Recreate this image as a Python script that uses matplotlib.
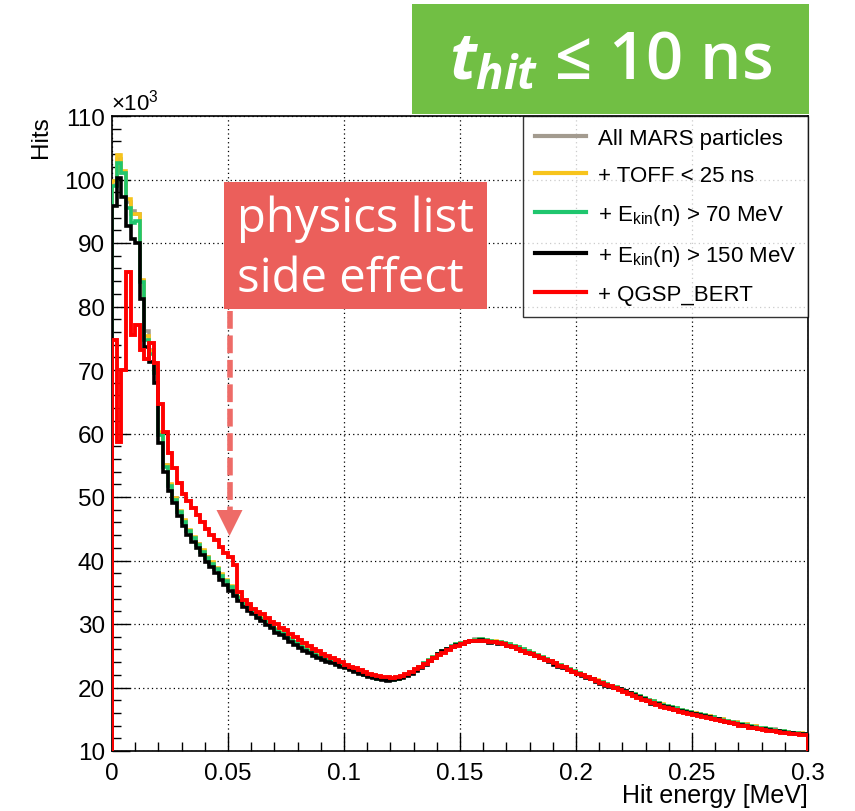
import numpy as np
import matplotlib
matplotlib.use("Agg")
import matplotlib.pyplot as plt
from matplotlib.patches import Rectangle, Polygon
from matplotlib.lines import Line2D

plt.rcParams['font.family'] = ['Liberation Sans', 'DejaVu Sans']
plt.rcParams['mathtext.fontset'] = 'custom'
plt.rcParams['mathtext.rm'] = 'Liberation Sans'
plt.rcParams['mathtext.it'] = 'Open Sans:italic:bold'

# ---------------- data (hits, in units of 10^3) ----------------
x_min, x_max, n_bins = 0.0, 0.3, 150

all_mars = [
    99.2, 103.3, 101.0, 96.5, 95.0, 94.6, 84.0, 76.1, 73.2, 70.0,
    60.0, 55.0, 51.9, 49.8, 47.7, 46.2, 44.7, 43.6, 42.6, 41.5,
    40.5, 39.6, 38.7, 37.7, 36.8, 35.9, 35.0, 34.2, 33.3, 32.7,
    32.1, 31.5, 30.9, 30.3, 29.8, 29.1, 28.7, 28.3, 27.7, 27.2,
    26.7, 26.3, 25.9, 25.5, 25.1, 24.7, 24.4, 24.1, 23.8, 23.5,
    23.2, 22.9, 22.6, 22.3, 22.0, 21.8, 21.6, 21.5, 21.3, 21.3,
    21.3, 21.4, 21.6, 21.9, 22.3, 22.7, 23.2, 23.8, 24.3, 24.8,
    25.3, 25.7, 26.1, 26.5, 26.8, 27.0, 27.2, 27.4, 27.6, 27.6,
    27.5, 27.4, 27.2, 27.1, 27.0, 26.8, 26.5, 26.3, 26.0, 25.7,
    25.4, 25.1, 24.8, 24.5, 24.2, 23.8, 23.5, 23.2, 22.9, 22.6,
    22.3, 22.0, 21.7, 21.4, 21.1, 20.9, 20.6, 20.3, 20.0, 19.8,
    19.5, 19.2, 18.9, 18.6, 18.4, 18.1, 17.8, 17.6, 17.3, 17.1,
    16.9, 16.7, 16.5, 16.3, 16.2, 16.0, 15.8, 15.6, 15.5, 15.3,
    15.1, 15.0, 14.8, 14.6, 14.5, 14.3, 14.2, 14.0, 13.9, 13.7,
    13.6, 13.5, 13.4, 13.2, 13.1, 13.0, 12.9, 12.8, 12.7, 12.7,
]

toff_25ns = [
    99.7, 103.9, 101.3, 96.9, 94.5, 94.5, 84.2, 75.3, 73.0, 69.8,
    60.2, 55.1, 52.0, 49.9, 47.8, 46.3, 44.8, 43.7, 42.6, 41.6,
    40.6, 39.7, 38.8, 37.8, 36.9, 36.0, 35.1, 34.3, 33.4, 32.8,
    32.1, 31.5, 30.9, 30.4, 29.8, 29.2, 28.7, 28.3, 27.8, 27.2,
    26.7, 26.3, 25.9, 25.5, 25.1, 24.7, 24.4, 24.1, 23.8, 23.5,
    23.2, 22.9, 22.6, 22.3, 22.1, 21.8, 21.7, 21.5, 21.4, 21.3,
    21.3, 21.4, 21.6, 21.9, 22.3, 22.7, 23.2, 23.7, 24.3, 24.8,
    25.3, 25.7, 26.1, 26.4, 26.8, 27.0, 27.2, 27.4, 27.5, 27.6,
    27.5, 27.4, 27.3, 27.1, 27.0, 26.8, 26.5, 26.3, 26.0, 25.7,
    25.4, 25.1, 24.8, 24.5, 24.2, 23.9, 23.5, 23.2, 22.9, 22.6,
    22.3, 22.0, 21.7, 21.4, 21.2, 20.9, 20.6, 20.3, 20.1, 19.8,
    19.5, 19.2, 18.9, 18.7, 18.4, 18.1, 17.8, 17.6, 17.4, 17.1,
    16.9, 16.7, 16.5, 16.3, 16.1, 16.0, 15.8, 15.6, 15.5, 15.3,
    15.1, 15.0, 14.8, 14.6, 14.5, 14.3, 14.2, 14.0, 13.9, 13.7,
    13.6, 13.5, 13.3, 13.2, 13.1, 13.0, 12.9, 12.8, 12.8, 12.7,
]

ekin_70 = [
    98.9, 102.6, 101.0, 95.5, 93.2, 93.4, 83.8, 74.8, 72.5, 69.6,
    59.8, 54.8, 51.7, 49.6, 47.6, 46.1, 44.6, 43.5, 42.5, 41.4,
    40.4, 39.5, 38.6, 37.6, 36.7, 35.8, 34.9, 34.1, 33.2, 32.6,
    32.0, 31.4, 30.8, 30.3, 29.7, 29.0, 28.6, 28.2, 27.6, 27.1,
    26.6, 26.2, 25.8, 25.4, 25.0, 24.6, 24.3, 24.0, 23.7, 23.4,
    23.2, 22.9, 22.6, 22.3, 22.0, 21.8, 21.6, 21.4, 21.3, 21.2,
    21.2, 21.4, 21.6, 21.9, 22.3, 22.8, 23.3, 23.8, 24.3, 24.8,
    25.3, 25.7, 26.1, 26.5, 26.8, 27.0, 27.2, 27.4, 27.5, 27.6,
    27.5, 27.3, 27.2, 27.1, 27.0, 26.8, 26.6, 26.3, 26.0, 25.7,
    25.4, 25.1, 24.8, 24.5, 24.1, 23.8, 23.5, 23.2, 22.9, 22.6,
    22.3, 22.0, 21.7, 21.4, 21.1, 20.8, 20.5, 20.3, 20.1, 19.8,
    19.5, 19.2, 18.9, 18.6, 18.4, 18.1, 17.9, 17.6, 17.3, 17.1,
    16.9, 16.7, 16.5, 16.3, 16.1, 15.9, 15.8, 15.6, 15.4, 15.3,
    15.1, 14.9, 14.8, 14.6, 14.4, 14.3, 14.1, 14.0, 13.8, 13.7,
    13.6, 13.4, 13.3, 13.2, 13.1, 13.0, 12.9, 12.8, 12.7, 12.7,
]

ekin_150 = [
    95.8, 100.2, 97.2, 92.6, 90.6, 90.0, 81.2, 73.7, 71.2, 68.0,
    58.5, 54.0, 51.0, 49.0, 47.0, 45.5, 44.0, 42.9, 41.9, 40.8,
    39.8, 38.9, 38.0, 37.0, 36.1, 35.2, 34.4, 33.6, 32.6, 32.1,
    31.5, 31.0, 30.4, 29.9, 29.3, 28.6, 28.2, 27.8, 27.2, 26.7,
    26.2, 25.8, 25.4, 25.0, 24.7, 24.3, 24.0, 23.8, 23.5, 23.2,
    23.0, 22.7, 22.4, 22.2, 21.9, 21.6, 21.5, 21.3, 21.2, 21.1,
    21.2, 21.3, 21.5, 21.8, 22.2, 22.6, 23.1, 23.6, 24.2, 24.7,
    25.2, 25.7, 26.0, 26.4, 26.7, 26.9, 27.1, 27.3, 27.4, 27.5,
    27.3, 27.0, 27.1, 26.9, 26.8, 26.6, 26.3, 26.0, 25.7, 25.5,
    25.2, 24.9, 24.6, 24.3, 24.0, 23.6, 23.3, 23.0, 22.7, 22.4,
    22.1, 21.8, 21.5, 21.3, 20.9, 20.6, 20.3, 20.1, 19.9, 19.7,
    19.4, 19.1, 18.8, 18.5, 18.2, 17.9, 17.4, 17.4, 17.1, 16.9,
    16.7, 16.5, 16.3, 16.2, 16.0, 15.8, 15.6, 15.5, 15.3, 15.1,
    15.0, 14.8, 14.6, 14.4, 14.3, 14.1, 14.0, 13.8, 13.7, 13.5,
    13.4, 13.3, 13.2, 13.1, 13.0, 12.9, 12.8, 12.7, 12.6, 12.6,
]

qgsp_bert = [
    74.7, 58.6, 70.0, 85.4, 75.5, 77.1, 73.2, 71.8, 74.2, 71.1,
    64.6, 60.2, 57.0, 54.6, 52.2, 50.4, 49.3, 48.3, 47.2, 46.0,
    45.0, 44.0, 43.2, 42.2, 41.2, 40.5, 39.3, 35.0, 33.8, 33.1,
    32.3, 31.9, 31.6, 31.0, 30.3, 30.0, 29.4, 29.0, 28.5, 27.9,
    27.5, 27.0, 26.5, 26.1, 25.7, 25.3, 25.0, 24.7, 24.4, 24.0,
    23.6, 23.3, 23.0, 22.7, 22.5, 22.2, 22.0, 21.8, 21.7, 21.6,
    21.5, 21.6, 21.8, 22.1, 22.5, 22.9, 23.3, 23.7, 24.2, 24.7,
    25.1, 25.5, 25.9, 26.3, 26.6, 26.9, 27.1, 27.3, 27.3, 27.4,
    27.3, 27.2, 27.1, 27.0, 26.8, 26.6, 26.4, 26.1, 25.8, 25.5,
    25.3, 25.0, 24.6, 24.4, 24.1, 23.8, 23.4, 23.2, 22.8, 22.5,
    22.2, 21.9, 21.6, 21.3, 21.0, 20.7, 20.4, 20.2, 19.9, 19.6,
    19.3, 19.0, 18.7, 18.4, 18.1, 17.8, 17.5, 17.3, 17.0, 16.8,
    16.6, 16.4, 16.2, 16.0, 15.9, 15.7, 15.5, 15.4, 15.2, 15.0,
    14.9, 14.7, 14.5, 14.4, 14.2, 14.0, 13.9, 13.7, 13.6, 13.4,
    13.3, 13.2, 13.1, 13.0, 12.9, 12.8, 12.7, 12.6, 12.5, 12.5,
]

series_labels = [
    "All MARS particles",
    "+ TOFF < 25 ns",
    "+ E$_{\\rm kin}$(n) > 70 MeV",
    "+ E$_{\\rm kin}$(n) > 150 MeV",
    "+ QGSP_BERT",
]
series_colors = ["#a39b8f", "#f7c41c", "#1fc66e", "#000000", "#ff0000"]
series_widths = [2.6, 2.6, 2.6, 2.6, 2.8]

x_ticks = [0, 0.05, 0.1, 0.15, 0.2, 0.25, 0.3]
x_ticklabels = ["0", "0.05", "0.1", "0.15", "0.2", "0.25", "0.3"]
y_ticks = [10, 20, 30, 40, 50, 60, 70, 80, 90, 100, 110]

# ---------------- figure ----------------
W, H = 855, 812
fig = plt.figure(figsize=(W / 100, H / 100), dpi=100)

def fx(px):
    return px / W

def fy(py):
    return 1 - py / H

ax = fig.add_axes([fx(112), fy(752), fx(808) - fx(112), fy(117) - fy(752)])

edges = np.linspace(x_min, x_max, n_bins + 1)
all_series = [all_mars, toff_25ns, ekin_70, ekin_150, qgsp_bert]
for vals, lab, col, lw in zip(all_series, series_labels, series_colors, series_widths):
    ax.stairs(vals, edges, baseline=0, color=col, linewidth=lw, label=lab, zorder=3)

ax.set_xlim(x_min, x_max)
ax.set_ylim(10, 110)
ax.set_xticks(x_ticks)
ax.set_xticklabels(x_ticklabels)
ax.set_yticks(y_ticks)
ax.set_xticks(np.arange(0, 0.3001, 0.01), minor=True)
ax.set_yticks(np.arange(10, 110.01, 2), minor=True)
ax.tick_params(which='both', direction='in', top=False, right=False,
               labelsize=17.5, width=1.0, color='black')
ax.tick_params(which='major', length=13)
ax.tick_params(which='minor', length=6.5)
ax.tick_params(axis='x', pad=8)
ax.tick_params(axis='y', pad=5)
ax.grid(True, which='major', color='black', linestyle=(0, (1, 2.5)), linewidth=0.9)
ax.set_axisbelow(True)
for sp in ax.spines.values():
    sp.set_linewidth(1.2)

# axis titles
fig.text(fx(808), fy(796), "Hit energy [MeV]", ha='right', va='center', fontsize=18)
fig.text(fx(41), fy(116), "Hits", ha='center', va='top', rotation=90, fontsize=17.5)
fig.text(fx(111), fy(103), "×10$^{3}$", ha='left', va='center', fontsize=16)

# legend
handles = [Line2D([], [], color=c, linewidth=3) for c in series_colors]
leg = ax.legend(handles, series_labels, loc='upper right', bbox_to_anchor=(1.0, 1.0),
                frameon=True, fancybox=False, shadow=False, fontsize=16,
                handlelength=2.3, handletextpad=0.5, labelspacing=0.72,
                borderpad=0.55, borderaxespad=0.0)
leg.get_frame().set_edgecolor('black')
leg.get_frame().set_linewidth(1.0)
leg.set_zorder(5)

# green banner
fig.patches.append(Rectangle((fx(412), fy(115)), fx(809) - fx(412), fy(5) - fy(115),
                             transform=fig.transFigure, facecolor='#71bf44',
                             edgecolor='none', zorder=10))
fig.text(fx(611), fy(62), "$t_{hit}$ \u2264 10 ns", ha='center', va='center',
         fontsize=47, color='white', family=['Open Sans', 'DejaVu Sans'],
         weight='semibold', zorder=11)

# red annotation box
ann_col = '#eb5f5b'
fig.patches.append(Rectangle((fx(224), fy(310)), fx(487) - fx(224), fy(183) - fy(310),
                             transform=fig.transFigure, facecolor=ann_col,
                             edgecolor='none', zorder=10))
fig.text(fx(237), fy(219), "physics list", ha='left', va='center', fontsize=34,
         color='white', family=['Open Sans', 'DejaVu Sans'], zorder=11)
fig.text(fx(237), fy(279), "side effect", ha='left', va='center', fontsize=34,
         color='white', family=['Open Sans', 'DejaVu Sans'], zorder=11)

# dashed arrow
arrow_x = 229.5
fig.lines.append(Line2D([fx(arrow_x), fx(arrow_x)], [fy(312), fy(512)],
                        transform=fig.transFigure, color='#ee6b67', linewidth=4,
                        linestyle=(0, (3.2, 1.2)), zorder=10))
fig.patches.append(Polygon([[fx(arrow_x - 13), fy(511)], [fx(arrow_x + 13), fy(511)],
                            [fx(arrow_x), fy(537)]], closed=True,
                           transform=fig.transFigure, facecolor='#ee6b67',
                           edgecolor='none', zorder=10))

fig.savefig("out.png", dpi=100)
